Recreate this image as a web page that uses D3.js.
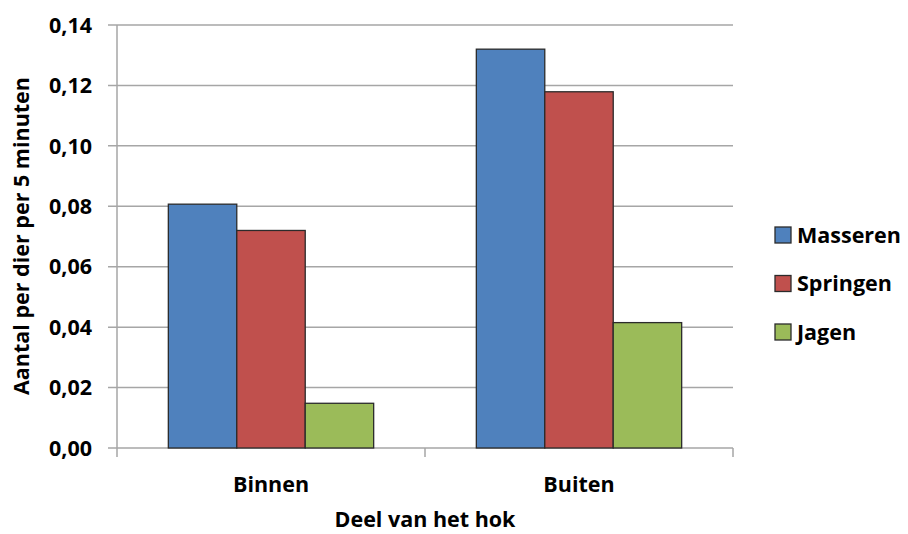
<!DOCTYPE html>
<html><head><meta charset="utf-8">
<script src="https://cdn.jsdelivr.net/npm/d3@7"></script>
<style>body{margin:0;background:#fff}svg{display:block}text{font-family:"Open Sans",Lato,sans-serif;font-weight:bold;fill:#000}</style>
</head><body><svg id="c" width="908" height="534"></svg>
<script>
const categories = ["Binnen", "Buiten"];
const seriesNames = ["Masseren", "Springen", "Jagen"];
const masseren = [0.0807, 0.1320];
const springen = [0.0720, 0.1179];
const jagen = [0.0148, 0.0415];
const yTicks = [0, 0.02, 0.04, 0.06, 0.08, 0.10, 0.12, 0.14];
const colors = ["#4F81BD", "#C0504D", "#9BBB59"];
const values = [masseren, springen, jagen];

const svg = d3.select("#c");
const L = 117, R = 733, T = 25, B = 448;
const x = d3.scaleBand().domain(categories).range([L, R]).paddingInner(0).paddingOuter(0);
const bw = x.bandwidth() / 4.5;
const y = d3.scaleLinear().domain([0, 0.14]).range([B, T]);

// gridlines
svg.append("g").selectAll("line").data(yTicks).join("line")
  .attr("x1", L - 9).attr("x2", R).attr("y1", d => y(d)).attr("y2", d => y(d))
  .attr("stroke", "#a6a6a6").attr("stroke-width", 1.5);
// y axis line
svg.append("line").attr("x1", L).attr("x2", L).attr("y1", T).attr("y2", B + 9)
  .attr("stroke", "#a6a6a6").attr("stroke-width", 1.5);
// category ticks
const catEdges = categories.map(c => x(c)).concat([R]);
svg.append("g").selectAll("line").data(catEdges.slice(1)).join("line")
  .attr("x1", d => d).attr("x2", d => d).attr("y1", B).attr("y2", B + 9)
  .attr("stroke", "#a6a6a6").attr("stroke-width", 1.5);

// y tick labels
const fmt = d => d3.format(".2f")(d).replace(".", ",");
svg.append("g").selectAll("text").data(yTicks).join("text")
  .attr("x", 92).attr("y", d => y(d)).attr("dy", "0.36em")
  .attr("text-anchor", "end").attr("font-size", 21.5).text(fmt);

// bars
seriesNames.forEach((s, si) => {
  svg.append("g").selectAll("rect").data(categories).join("rect")
    .attr("x", c => x(c) + bw * 0.75 + si * bw)
    .attr("width", bw)
    .attr("y", (c, i) => y(values[si][i]))
    .attr("height", (c, i) => B - y(values[si][i]))
    .attr("fill", colors[si]).attr("stroke", "#2b2b2b").attr("stroke-width", 1.3);
});

// x labels
svg.append("g").selectAll("text").data(categories).join("text")
  .attr("x", c => x(c) + x.bandwidth() / 2).attr("y", 492)
  .attr("text-anchor", "middle").attr("font-size", 21.5).text(c => c);

svg.append("text").attr("x", 425).attr("y", 527).attr("text-anchor", "middle")
  .attr("font-size", 21.5).text("Deel van het hok");

svg.append("text").attr("transform", "translate(29,236) rotate(-90)")
  .attr("text-anchor", "middle").attr("font-size", 21.5).text("Aantal per dier per 5 minuten");

// legend
const lg = svg.append("g");
seriesNames.forEach((s, i) => {
  const cy = 235 + i * 48.5;
  lg.append("rect").attr("x", 775).attr("y", cy - 8).attr("width", 16).attr("height", 16)
    .attr("fill", colors[i]).attr("stroke", "#2b2b2b").attr("stroke-width", 1.3);
  lg.append("text").attr("x", 797).attr("y", cy).attr("dy", "0.36em")
    .attr("font-size", 21.5).text(s);
});
</script></body></html>
